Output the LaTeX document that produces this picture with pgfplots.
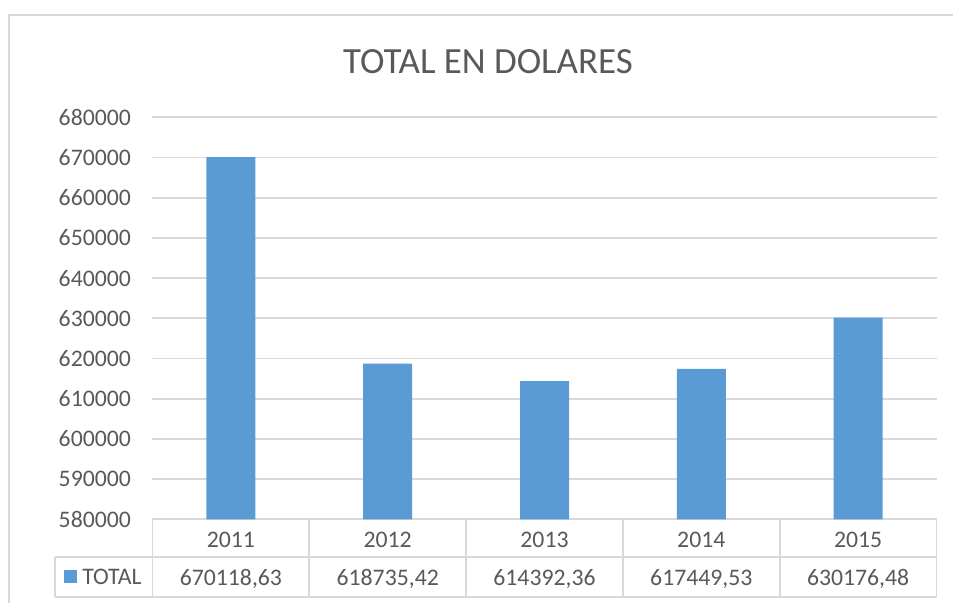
\documentclass[border=0pt]{standalone}
\usepackage{fontspec}
\setmainfont{Carlito}
\usepackage{pgfplots}
\pgfplotsset{compat=1.18}

\definecolor{barblue}{HTML}{5B9BD5}
\definecolor{txtgray}{HTML}{595959}
\definecolor{linegray}{HTML}{D9D9D9}

\newcommand{\tickfont}{\fontsize{17.8}{20}\selectfont}

\begin{document}
\begin{tikzpicture}
\begin{axis}[
    at={(0,0)}, anchor=south west,
    scale only axis,
    width=588pt, height=301.5pt,
    xmin=0.5, xmax=5.5,
    ymin=580000, ymax=680000,
    ytick distance=10000,
    scaled y ticks=false,
    xtick={1,2,3,4,5},
    xticklabels={2011,2012,2013,2014,2015},
    ymajorgrids,
    grid style={linegray, line width=1.4pt},
    axis line style={draw=none},
    major tick length=0pt,
    /pgf/number format/fixed,
    /pgf/number format/1000 sep={},
    /pgf/number format/assume math mode=true,
    yticklabel style={font=\tickfont, text=txtgray, anchor=east, inner sep=0pt, xshift=-16pt},
    xticklabel style={font=\tickfont, text=txtgray, anchor=center, inner sep=0pt, yshift=-15.5pt},
]
\addplot[ybar, bar width=36.75pt, fill=barblue, draw=none] coordinates {
    (1, 670118.63) (2, 618735.42) (3, 614392.36) (4, 617449.53) (5, 630176.48)
};
\end{axis}

% pixel frame of the reference image
\begin{scope}[x=0.75pt, y=-0.75pt, shift={(-114.375pt,389.475pt)}]
  % outer chart border
  \draw[linegray, line width=1.5pt] (9,603) -- (9,15) -- (953,15);
  % title
  \node[text=txtgray, font=\fontsize{27.7}{32}\selectfont] at (488,61.5) {TOTAL EN DOLARES};
  % data table
  \begin{scope}[linegray, line width=1.4pt]
    \draw (55,557) -- (936.5,557);
    \draw (55,597) -- (936.5,597);
    \draw (55,557) -- (55,597);
    \foreach \cx in {152.5,309.3,466.1,622.9,779.7,936.5}
      \draw (\cx,519.3) -- (\cx,597);
  \end{scope}
  \fill[barblue] (64,569.5) rectangle (77,583);
  \node[anchor=west, inner sep=0pt, text depth=0pt, text=txtgray, font=\tickfont] at (82,577) {TOTAL};
  \begin{scope}[every node/.style={text=txtgray, font=\tickfont, inner sep=0pt, text depth=0pt}]
    \node at (230.9,577) {670118,63};
    \node at (387.7,577) {618735,42};
    \node at (544.5,577) {614392,36};
    \node at (701.3,577) {617449,53};
    \node at (858.1,577) {630176,48};
  \end{scope}
  \pgfresetboundingbox
  \useasboundingbox (0,0) rectangle (953,603);
\end{scope}
\end{tikzpicture}
\end{document}
